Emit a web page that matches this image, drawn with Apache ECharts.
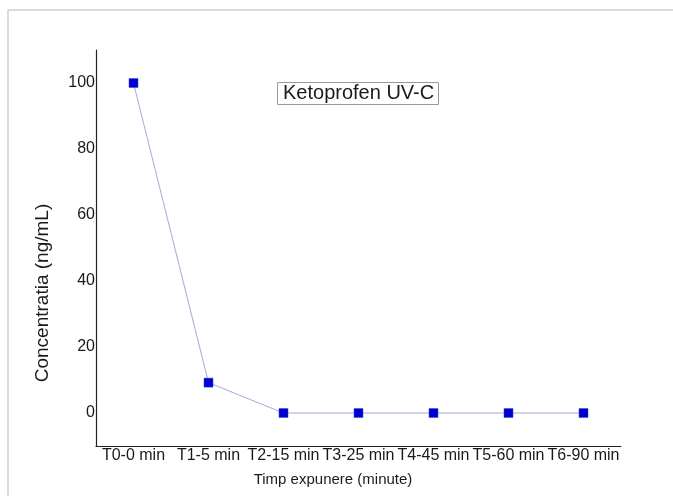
<!DOCTYPE html>
<html>
<head>
<meta charset="utf-8">
<script src="https://cdn.jsdelivr.net/npm/echarts@6/dist/echarts.min.js"></script>
<style>
html,body{margin:0;padding:0;background:#fff;}
#main{width:673px;height:496px;}
</style>
</head>
<body>
<div id="main"></div>
<script>
const categories = ['T0-0 min','T1-5 min','T2-15 min','T3-25 min','T4-45 min','T5-60 min','T6-90 min'];
const concentration = [100, 9.2, 0, 0, 0, 0, 0];
const yTickLabels = [0, 20, 40, 60, 80, 100];
const chartTitle = 'Ketoprofen UV-C';
const xName = 'Timp expunere (minute)';
const yName = 'Concentratia (ng/mL)';

const font = 'Liberation Sans, Arial, sans-serif';
const chart = echarts.init(document.getElementById('main'), null, {renderer:'canvas'});
chart.setOption({
  animation:false,
  backgroundColor:'#fff',
  title:{
    text: chartTitle,
    left: 277, top: 82,
    padding:[1,5,1,6],
    borderColor:'#9a9a9a', borderWidth:1,
    backgroundColor:'#fff',
    textStyle:{fontFamily:font, fontSize:20, fontWeight:'normal', color:'#1a1a1a', lineHeight:21}
  },
  graphic:[
    {type:'rect', silent:true, z:-10, shape:{x:8, y:10, width:700, height:520},
      style:{fill:'none', stroke:'#cfcfcf', lineWidth:1.5}},
    {type:'text', silent:true, style:{text:yName, font:'19px '+font, fill:'#1a1a1a', textAlign:'center', textVerticalAlign:'middle'},
      x:43, y:293, rotation:Math.PI/2},
    {type:'text', silent:true, style:{text:xName, font:'15px '+font, fill:'#1a1a1a', textAlign:'center', textVerticalAlign:'middle'},
      x:333, y:480}
  ],
  grid:{left:96, right:52, top:50, bottom:50, containLabel:false},
  xAxis:{
    type:'category', data:categories, boundaryGap:true,
    axisLine:{onZero:false, lineStyle:{color:'#222', width:1.2}},
    axisTick:{show:false},
    axisLabel:{margin:2, fontFamily:font, fontSize:16, color:'#1a1a1a', interval:0},
    splitLine:{show:false}
  },
  yAxis:{
    type:'value', min:-10, max:110, interval:10,
    axisLine:{show:true, lineStyle:{color:'#222', width:1.2}},
    axisTick:{show:false},
    splitLine:{show:false},
    axisLabel:{margin:1, fontFamily:font, fontSize:16, color:'#1a1a1a',
      formatter:function(v){ return yTickLabels.indexOf(v) >= 0 ? String(v) : ''; }}
  },
  series:[{
    type:'line', data:concentration,
    symbol:'rect', symbolSize:9,
    lineStyle:{color:'#a8a8d8', width:1},
    itemStyle:{color:'#0000cc', borderColor:'#3344ee', borderWidth:0.5}
  }]
});
</script>
</body>
</html>
